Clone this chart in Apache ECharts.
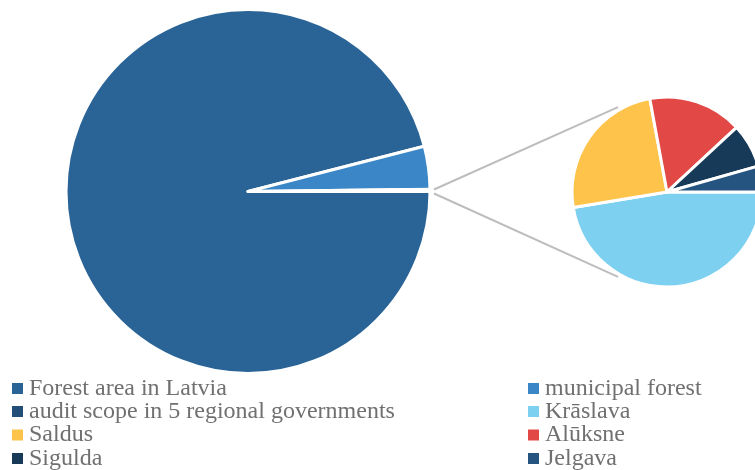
<!DOCTYPE html>
<html>
<head>
<meta charset="utf-8">
<script src="https://cdn.jsdelivr.net/npm/echarts@6/dist/echarts.min.js"></script>
<style>html,body{margin:0;padding:0;background:#fff}#c{width:755px;height:470px}</style>
</head>
<body>
<div id="c"></div>
<script>
// Main pie (percent of forest area)
var mainNames = ['Forest area in Latvia', 'municipal forest', 'audit scope in 5 regional governments'];
var mainValues = [96.0, 3.8, 0.2];
// Breakdown pie (share of audit scope)
var subNames = ['Krāslava', 'Saldus', 'Alūksne', 'Sigulda', 'Jelgava'];
var subValues = [47.4, 24.7, 16.0, 7.5, 4.4];
// Legend order (two columns)
var legendLeftCol = ['Forest area in Latvia', 'audit scope in 5 regional governments', 'Saldus', 'Sigulda'];
var legendRightCol = ['municipal forest', 'Krāslava', 'Alūksne', 'Jelgava'];

var mainColors = ['#2a6496', '#3a86c6', '#234e78'];
var subColors = ['#7dd0ef', '#fdc34a', '#e24846', '#183a59', '#24547f'];

var bigC = [248, 191.5], bigR = 182;
var smallC = [667, 192], smallR = 95;

var chart = echarts.init(document.getElementById('c'));

function mk(names, vals, cols) {
  return names.map(function (n, i) { return { name: n, value: vals[i], itemStyle: { color: cols[i] } }; });
}

var midY = bigC[1];
var a = 120 * Math.PI / 180, rr = smallR + 3;
var lineStyle = { stroke: '#bdbdbd', lineWidth: 2 };
var graphics = [
  { type: 'line', shape: { x1: bigC[0] + bigR + 4, y1: midY - 2, x2: smallC[0] + rr * Math.cos(a), y2: smallC[1] - rr * Math.sin(a) }, style: lineStyle, z: 1 },
  { type: 'line', shape: { x1: bigC[0] + bigR + 4, y1: midY + 2, x2: smallC[0] + rr * Math.cos(a), y2: smallC[1] + rr * Math.sin(a) }, style: lineStyle, z: 1 }
];

var FONT = 'Liberation Serif';
var legendText = { fontFamily: FONT, fontSize: 24, color: '#707070' };
var rowCenters = [388.5, 411.5, 435, 458.5];
var legends = [];
function addCol(names, x) {
  names.forEach(function (n, i) {
    legends.push({ orient: 'horizontal', left: x, top: rowCenters[i], itemWidth: 13, itemHeight: 13, icon: 'rect',
      textStyle: legendText, data: [n], selectedMode: false, padding: 0 });
  });
}
addCol(legendLeftCol, 10);
addCol(legendRightCol, 526);

chart.setOption({
  animation: false,
  textStyle: { fontFamily: FONT },
  graphic: graphics,
  legend: legends,
  series: [
    { type: 'pie', center: bigC, radius: bigR, startAngle: 0, clockwise: true, silent: true,
      label: { show: false }, labelLine: { show: false },
      itemStyle: { borderColor: '#fff', borderWidth: 3 },
      data: mk(mainNames, mainValues, mainColors) },
    { type: 'pie', center: smallC, radius: smallR, startAngle: 0, clockwise: true, silent: true,
      label: { show: false }, labelLine: { show: false },
      itemStyle: { borderColor: '#fff', borderWidth: 3 },
      data: mk(subNames, subValues, subColors) }
  ]
});
// Center each legend row vertically on its row line
var newLegends = legends.map(function (l, i) {
  var m = chart.getModel().getComponent('legend', i);
  var view = chart.getViewOfComponentModel(m);
  var h = view.group.getBoundingRect().height;
  return { top: l.top - h / 2 };
});
chart.setOption({ legend: newLegends });
</script>
</body>
</html>
